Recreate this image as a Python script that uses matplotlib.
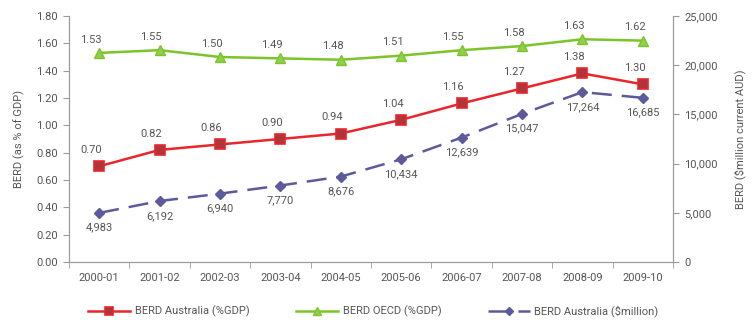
import numpy as np
import matplotlib.pyplot as plt

# data
years = ['2000-01', '2001-02', '2002-03', '2003-04', '2004-05',
         '2005-06', '2006-07', '2007-08', '2008-09', '2009-10']
berd_aus_gdp = [0.70, 0.82, 0.86, 0.90, 0.94, 1.04, 1.16, 1.27, 1.38, 1.30]
berd_oecd_gdp = [1.53, 1.55, 1.50, 1.49, 1.48, 1.51, 1.55, 1.58, 1.63, 1.62]
berd_aus_mil = [4983, 6192, 6940, 7770, 8676, 10434, 12639, 15047, 17264, 16685]

grey = '#555555'
spine_col = '#9a9a9a'
red = '#e8262b'
green = '#7cc42a'
purple = '#5c5a9c'

plt.rcParams['font.family'] = ['Roboto', 'DejaVu Sans']
fig = plt.figure(figsize=(7.54, 3.27), dpi=100)
ax = fig.add_axes([0.0915, 0.199, 0.801, 0.752])
ax2 = ax.twinx()

x = np.arange(len(years))

l1, = ax.plot(x, berd_aus_gdp, color=red, lw=1.8, marker='s', ms=7.5,
              mfc='#b0343a', mec=red, mew=1.2, label='BERD Australia (%GDP)')
l2, = ax.plot(x, berd_oecd_gdp, color=green, lw=1.8, marker='^', ms=7,
              mfc='#8fcf4a', mec=green, label='BERD OECD (%GDP)')
l3, = ax2.plot(x, berd_aus_mil, color=purple, lw=1.8, dashes=(8, 4), marker='D', ms=5,
               mfc=purple, mec=purple, label='BERD Australia ($million)')

for i in x:
    ax.annotate(f'{berd_aus_gdp[i]:.2f}', (i, berd_aus_gdp[i]), xytext=(-6, 8),
                textcoords='offset points', ha='center', va='bottom', fontsize=8, color=grey)
    ax.annotate(f'{berd_oecd_gdp[i]:.2f}', (i, berd_oecd_gdp[i]), xytext=(-6, 6),
                textcoords='offset points', ha='center', va='bottom', fontsize=8, color=grey)
    ax2.annotate(f'{berd_aus_mil[i]:,}', (i, berd_aus_mil[i]), xytext=(0, -7),
                 textcoords='offset points', ha='center', va='top', fontsize=8, color=grey)

ax.set_xlim(-0.5, len(years) - 0.5)
ax.set_ylim(0, 1.8)
ax.set_yticks(np.arange(0, 1.81, 0.2))
ax.set_yticklabels([f'{v:.2f}' for v in np.arange(0, 1.81, 0.2)])
ax2.set_ylim(0, 25000)
ax2.set_yticks(np.arange(0, 25001, 5000))
ax2.set_yticklabels([f'{v:,}' for v in range(0, 25001, 5000)])

ax.set_xticks(x)
ax.set_xticklabels(years)
ax.set_xticks(np.arange(-0.5, len(years), 1), minor=True)
ax.tick_params(axis='x', which='major', length=0, pad=8, labelsize=8, labelcolor=grey)
ax.tick_params(axis='x', which='minor', length=4, color=spine_col)
ax.tick_params(axis='y', length=4, color=spine_col, labelsize=8, labelcolor=grey, pad=4)
ax2.tick_params(axis='y', length=4, color=spine_col, labelsize=8, labelcolor=grey, pad=4)

for a in (ax, ax2):
    a.spines['top'].set_visible(False)
    for s in ('left', 'right', 'bottom'):
        a.spines[s].set_color(spine_col)

ax.set_ylabel('BERD (as % of GDP)', fontsize=8, color=grey, labelpad=8)
ax2.set_ylabel('BERD ($million current AUD)', fontsize=8, color=grey, labelpad=12)

fig.legend(handles=[l1, l2, l3], loc='lower center', bbox_to_anchor=(0.495, 0.0), ncol=3,
           frameon=False, fontsize=8, labelcolor=grey, handlelength=3.8, columnspacing=4.2,
           markerscale=0.8, handletextpad=0.4)

fig.savefig('out.png', dpi=100)
